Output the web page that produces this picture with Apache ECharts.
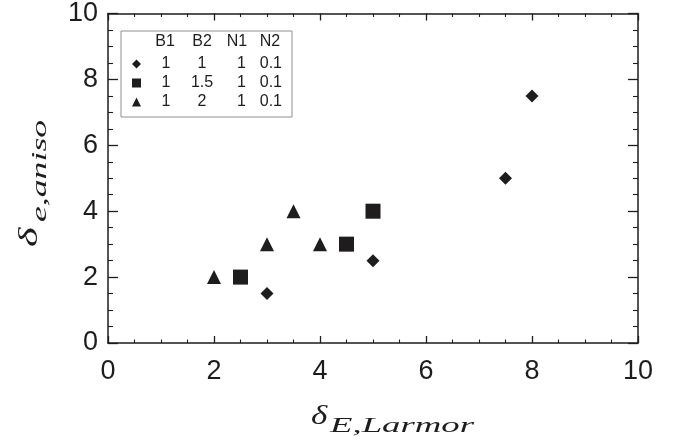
<!DOCTYPE html>
<html>
<head>
<meta charset="utf-8">
<script src="https://cdn.jsdelivr.net/npm/echarts@6/dist/echarts.min.js"></script>
<style>html,body{margin:0;padding:0;background:#fff}#c{width:673px;height:445px}</style>
</head>
<body>
<div id="c"></div>
<script>
// ---- data ----
var seriesNames = ['s1', 's2', 's3'];
var seriesSymbols = ['diamond', 'rect', 'triangle'];
var diamondPts = [[3, 1.5], [5, 2.5], [7.5, 5], [8, 7.5]];
var squarePts = [[2.5, 2], [4.5, 3], [5, 4]];
var trianglePts = [[2, 2], [3, 3], [3.5, 4], [4, 3]];
var legendHeader = ['B1', 'B2', 'N1', 'N2'];
var legendB1 = ['1', '1', '1'];
var legendB2 = ['1', '1.5', '2'];
var legendN1 = ['1', '1', '1'];
var legendN2 = ['0.1', '0.1', '0.1'];
var xTicks = [0, 2, 4, 6, 8, 10];
var yTicks = [0, 2, 4, 6, 8, 10];

var INK = '#1e1c1d';
var chart = echarts.init(document.getElementById('c'), null, {renderer: 'canvas'});

function axisBase(isX, showLabel, pos) {
  return {
    type: 'value', min: xTicks[0], max: xTicks[xTicks.length - 1], interval: 2,
    position: pos,
    axisLine: {show: true, onZero: false, lineStyle: {color: INK, width: 1.5}},
    axisTick: {show: true, inside: true, length: isX ? 7 : 10, lineStyle: {color: INK, width: 1.3}},
    minorTick: {show: true, splitNumber: 4, length: isX ? 3.5 : 5, lineStyle: {color: INK, width: 1.1}},
    splitLine: {show: false},
    axisLabel: {show: showLabel, color: INK, fontFamily: 'Liberation Sans', fontSize: 27, margin: isX ? 15 : 10}
  };
}
var xa = axisBase(true, true, 'bottom');
var xb = axisBase(true, false, 'top');
var ya = axisBase(false, true, 'left');
ya.min = yTicks[0]; ya.max = yTicks[yTicks.length - 1];
var yb = axisBase(false, false, 'right');
yb.min = yTicks[0]; yb.max = yTicks[yTicks.length - 1];

var legendLines = {};
seriesNames.forEach(function (n, i) {
  legendLines[n] = '{a|' + legendB1[i] + '}{b|' + legendB2[i] + '}{c|' + legendN1[i] + '}{d|' + legendN2[i] + '}';
});

var serif = 'Liberation Serif';
var headerX = [165, 202, 237, 270];
var LF = 16;
function rs(w, al) { return {width: w, align: al, fontSize: LF, fontFamily: 'Liberation Sans', color: INK, lineHeight: 14}; }

var option = {
  backgroundColor: '#fff',
  animation: false,
  grid: {left: 108, right: 35, top: 12, bottom: 102, containLabel: false},
  xAxis: [xa, xb],
  yAxis: [ya, yb],
  legend: {
    orient: 'vertical', left: 121, top: 31,
    padding: [25, 10, 7, 11],
    itemGap: 3, itemWidth: 9, itemHeight: 9,
    borderColor: '#8f8f8f', borderWidth: 1,
    data: seriesNames.map(function (n, i) { return {name: n, icon: seriesSymbols[i], itemStyle: {color: INK, opacity: 1}}; }),
    formatter: function (n) { return legendLines[n]; },
    textStyle: {
      color: INK, fontFamily: 'Liberation Sans', fontSize: LF, lineHeight: 14,
      rich: {a: rs(40, 'center'), b: rs(32, 'center'), c: rs(28, 'right'), d: rs(36, 'right')}
    }
  },
  graphic: [
    {type: 'group', children: legendHeader.map(function (h, i) {
      return {type: 'text', x: headerX[i], y: 42,
        style: {text: h, fill: INK, font: LF + 'px "Liberation Sans"', textAlign: 'center', textVerticalAlign: 'middle', align: 'center', verticalAlign: 'middle'}};
    })},
    // x axis title
    {type: 'text', x: 311, y: 417, scaleX: 1.25,
      style: {text: 'δ', fill: INK, font: 'italic 28px "' + serif + '"', textAlign: 'left', textVerticalAlign: 'middle', align: 'left', verticalAlign: 'middle'}},
    {type: 'text', x: 330, y: 426.5, scaleX: 1.75,
      style: {text: 'E,Larmor', fill: INK, font: 'italic 21px "' + serif + '"', textAlign: 'left', textVerticalAlign: 'middle', align: 'left', verticalAlign: 'middle'}},
    // y axis title (rotated)
    {type: 'group', x: 0, y: 247, rotation: Math.PI / 2, children: [
      {type: 'text', x: 0, y: 30, scaleX: 1.5,
        style: {text: 'δ', fill: INK, font: 'italic 28px "' + serif + '"', textAlign: 'left', textVerticalAlign: 'middle', align: 'left', verticalAlign: 'middle'}},
      {type: 'text', x: 25, y: 40.5, scaleX: 1.7,
        style: {text: 'e,aniso', fill: INK, font: 'italic 21px "' + serif + '"', textAlign: 'left', textVerticalAlign: 'middle', align: 'left', verticalAlign: 'middle'}}
    ]}
  ],
  series: [
    {name: seriesNames[0], type: 'scatter', symbol: seriesSymbols[0], symbolSize: 13, data: diamondPts, itemStyle: {color: INK, opacity: 1}},
    {name: seriesNames[1], type: 'scatter', symbol: seriesSymbols[1], symbolSize: 15, data: squarePts, itemStyle: {color: INK, opacity: 1}},
    {name: seriesNames[2], type: 'scatter', symbol: seriesSymbols[2], symbolSize: 14, data: trianglePts, itemStyle: {color: INK, opacity: 1}}
  ]
};
chart.setOption(option);
</script>
</body>
</html>
